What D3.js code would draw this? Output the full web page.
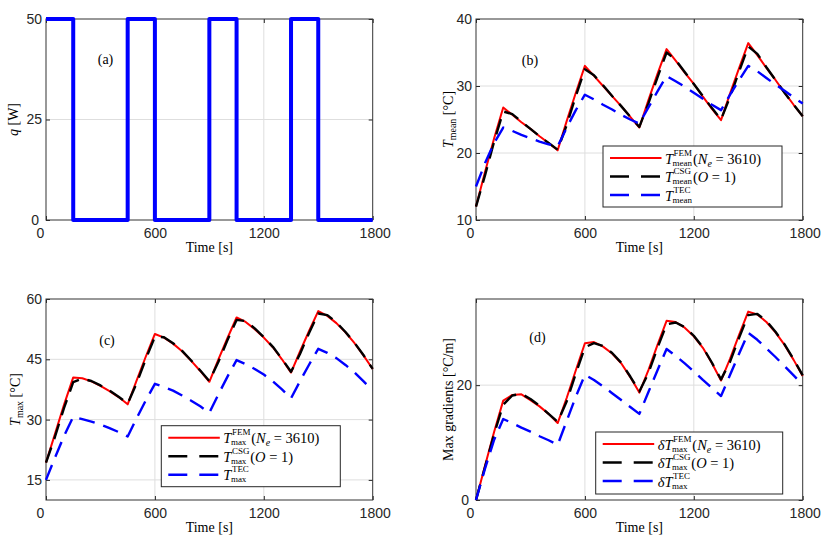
<!DOCTYPE html>
<html>
<head>
<meta charset="utf-8">
<script src="https://cdn.jsdelivr.net/npm/d3@7"></script>
<style>
body { margin: 0; background: #fff; }
svg { display: block; }
.tick text { font-family: 'Liberation Sans', Arial, sans-serif; font-size: 14px; fill: #262626; }
.tick line { stroke: #262626; }
</style>
</head>
<body>
<div id="chart"></div>
<script>
// time axis, common to all panels
var xTicks = [0, 600, 1200, 1800];

// (a) heat input, square wave
var timeQ = [0, 150, 150, 450, 450, 600, 600, 900, 900, 1050, 1050, 1350, 1350, 1500, 1500, 1800];
var qValues = [50, 50, 0, 0, 50, 50, 0, 0, 50, 50, 0, 0, 50, 50, 0, 0];

// sample times for the temperature / gradient curves (every 50 s)
var timeT = [0, 50, 100, 150, 200, 250, 300, 350, 400, 450, 500, 550, 600, 650, 700, 750, 800, 850, 900,
    950, 1000, 1050, 1100, 1150, 1200, 1250, 1300, 1350, 1400, 1450, 1500, 1550, 1600, 1650, 1700, 1750, 1800];

// (b) mean temperature
var meanFEM = [12.0, 17.2, 22.2, 26.8, 25.7, 24.6, 23.6, 22.5, 21.5, 20.4, 24.8, 29.0, 33.0, 31.5, 30.0, 28.5, 27.0, 25.4, 23.8,
    27.9, 31.8, 35.5, 33.8, 32.0, 30.3, 28.4, 26.6, 24.9, 28.9, 32.7, 36.4, 34.6, 32.7, 30.9, 29.0, 27.2, 25.5];
var meanCSG = [12.0, 16.7, 21.7, 26.2, 25.8, 24.7, 23.6, 22.5, 21.5, 20.5, 24.2, 28.5, 32.5, 31.6, 30.1, 28.5, 27.0, 25.4, 23.9,
    27.4, 31.3, 35.0, 33.9, 32.1, 30.3, 28.5, 26.7, 25.0, 28.4, 32.2, 35.9, 34.8, 32.8, 30.9, 29.0, 27.2, 25.5];
var meanTEC = [15.0, 18.5, 21.5, 23.8, 23.3, 22.7, 22.2, 21.7, 21.3, 21.0, 23.8, 26.4, 28.7, 28.0, 27.2, 26.5, 25.7, 25.0, 24.4,
    26.8, 29.2, 31.5, 30.7, 29.9, 29.0, 28.1, 27.2, 26.4, 28.7, 30.9, 33.0, 32.2, 31.2, 30.2, 29.3, 28.3, 27.4];

// (c) max temperature
var maxFEM = [19.3, 26.5, 33.8, 40.5, 40.3, 39.5, 38.4, 37.1, 35.6, 33.8, 39.8, 45.7, 51.3, 50.4, 48.9, 47.0, 44.6, 42.1, 39.4,
    45.0, 50.3, 55.4, 54.3, 52.5, 50.4, 48.0, 45.0, 41.7, 47.0, 52.1, 57.0, 55.8, 54.0, 51.7, 49.0, 45.9, 42.6];
var maxCSG = [19.3, 25.8, 33.0, 39.3, 40.2, 39.6, 38.5, 37.2, 35.7, 34.0, 39.1, 45.1, 50.6, 50.5, 49.0, 47.1, 44.7, 42.2, 39.6,
    44.4, 49.8, 54.8, 54.5, 52.7, 50.5, 48.1, 45.1, 41.9, 46.4, 51.6, 56.4, 56.0, 54.2, 51.8, 49.1, 46.0, 42.6];
var maxTEC = [15.0, 20.6, 26.0, 30.7, 30.1, 29.5, 28.8, 27.9, 26.9, 25.8, 30.4, 34.8, 38.9, 38.1, 37.2, 36.0, 34.7, 33.3, 31.7,
    36.3, 40.7, 44.8, 43.8, 42.6, 41.2, 39.5, 37.5, 35.3, 39.6, 43.7, 47.6, 46.6, 45.3, 43.6, 41.7, 39.5, 37.2];

// (d) max gradients
var gradFEM = [0, 6.0, 11.9, 17.3, 18.3, 18.4, 17.4, 16.3, 15.0, 13.4, 17.8, 22.6, 27.3, 27.5, 26.7, 25.5, 23.8, 21.4, 18.7,
    22.6, 27.0, 31.2, 31.0, 30.0, 28.5, 26.5, 23.8, 20.8, 24.6, 28.8, 32.8, 32.3, 31.0, 29.2, 27.0, 24.4, 21.6];
var gradCSG = [0, 5.8, 11.5, 16.6, 18.2, 18.5, 17.6, 16.4, 15.0, 13.6, 17.2, 22.0, 26.6, 27.3, 26.8, 25.6, 23.9, 21.5, 18.9,
    22.1, 26.5, 30.6, 30.9, 30.1, 28.6, 26.6, 23.9, 21.0, 24.1, 28.3, 32.2, 32.4, 31.2, 29.3, 27.1, 24.5, 21.7];
var gradTEC = [0, 5.5, 10.5, 14.1, 13.4, 12.6, 11.9, 11.1, 10.4, 9.6, 13.8, 18.0, 21.8, 20.9, 19.8, 18.6, 17.4, 16.2, 15.0,
    18.8, 22.6, 26.3, 25.1, 23.8, 22.4, 20.9, 19.5, 18.1, 21.8, 25.5, 29.1, 27.9, 26.4, 24.9, 23.3, 21.7, 20.1];

var seriesStyle = [
    {color: '#ff0000', width: 2, dash: null},
    {color: '#000000', width: 2.4, dash: '16,9'},
    {color: '#0000ff', width: 2.4, dash: '16,9'}
];

var serif = "'Liberation Serif', 'Times New Roman', serif";

var svg = d3.select('#chart').append('svg')
    .attr('width', 831)
    .attr('height', 543);

var plotW = 326.7, plotH = 201;

new Panel({
    left: 46, top: 19, yDomain: [0, 50], yTicks: [0, 25, 50],
    letter: '(a)', letterPos: [59.5, 45], yLabelX: -33,
    yLabel: [{t: 'q', it: true}, {t: ' [W]'}],
    series: [{t: timeQ, v: qValues, style: {color: '#0000ff', width: 4, dash: null}}]
});

new Panel({
    left: 476, top: 19, yDomain: [10, 40], yTicks: [10, 20, 30, 40],
    letter: '(b)', letterPos: [54, 46], yLabelX: -28,
    yLabel: [{t: 'T', it: true}, {t: 'mean', sub: true}, {t: ' [°C]'}],
    series: [{t: timeT, v: meanFEM}, {t: timeT, v: meanCSG}, {t: timeT, v: meanTEC}],
    legend: {x: 127, y: 127, w: 179, h: 61, delta: false, sub: 'mean'}
});

new Panel({
    left: 46, top: 299, yDomain: [10, 60], yTicks: [15, 30, 45, 60],
    letter: '(c)', letterPos: [61, 46], yLabelX: -31,
    yLabel: [{t: 'T', it: true}, {t: 'max', sub: true}, {t: ' [°C]'}],
    series: [{t: timeT, v: maxFEM}, {t: timeT, v: maxCSG}, {t: timeT, v: maxTEC}],
    legend: {x: 115.3, y: 126.7, w: 179, h: 61, delta: false, sub: 'max'}
});

new Panel({
    left: 476, top: 299, yDomain: [0, 35], yTicks: [0, 20],
    letter: '(d)', letterPos: [61.5, 42.7], yLabelX: -28,
    yLabel: [{t: 'Max gradients [°C/m]'}],
    series: [{t: timeT, v: gradFEM}, {t: timeT, v: gradCSG}, {t: timeT, v: gradTEC}],
    legend: {x: 119.7, y: 133, w: 187, h: 62, delta: true, sub: 'max'}
});

function Panel(cfg) {
    var g = svg.append('g')
        .attr('transform', `translate(${cfg.left}, ${cfg.top})`);

    var x = d3.scaleLinear().domain([0, 1800]).range([0, plotW]);
    var y = d3.scaleLinear().domain(cfg.yDomain).range([plotH, 0]);

    // grid lines (not on the box edges)
    var innerX = xTicks.filter(d => d > 0 && d < 1800);
    var innerY = cfg.yTicks.filter(d => d > cfg.yDomain[0] && d < cfg.yDomain[1]);
    g.selectAll('.gx').data(innerX).enter().append('line')
        .attr('x1', d => x(d)).attr('x2', d => x(d))
        .attr('y1', 0).attr('y2', plotH)
        .attr('stroke', '#dedede').attr('stroke-width', 1);
    g.selectAll('.gy').data(innerY).enter().append('line')
        .attr('x1', 0).attr('x2', plotW)
        .attr('y1', d => y(d)).attr('y2', d => y(d))
        .attr('stroke', '#dedede').attr('stroke-width', 1);

    // axes, ticks pointing inward on all four sides
    var fmt = d3.format('d');
    g.append('g')
        .attr('transform', `translate(0, ${plotH})`)
        .call(d3.axisBottom(x).tickValues(xTicks).tickFormat(fmt).tickSizeInner(-4).tickSizeOuter(0).tickPadding(8))
        .call(a => a.select('.domain').remove())
        // corner labels sit a little outward, as in the original
        .call(a => a.selectAll('.tick text').attr('dx', d => d == 0 ? -6 : (d == 1800 ? 2 : 0)));
    g.append('g')
        .call(d3.axisTop(x).tickValues(xTicks).tickSizeInner(-4).tickSizeOuter(0).tickFormat(''))
        .call(a => a.select('.domain').remove());
    g.append('g')
        .call(d3.axisLeft(y).tickValues(cfg.yTicks).tickFormat(fmt).tickSizeInner(-4).tickSizeOuter(0).tickPadding(4))
        .call(a => a.select('.domain').remove())
        .call(a => a.selectAll('.tick text').attr('dx', d => d == 0 ? -3 : 0));
    g.append('g')
        .attr('transform', `translate(${plotW}, 0)`)
        .call(d3.axisRight(y).tickValues(cfg.yTicks).tickSizeInner(-4).tickSizeOuter(0).tickFormat(''))
        .call(a => a.select('.domain').remove());

    g.append('rect')
        .attr('width', plotW).attr('height', plotH)
        .attr('fill', 'none')
        .attr('stroke', '#333').attr('stroke-width', 1);

    // curves
    cfg.series.forEach((s, i) => {
        var st = s.style || seriesStyle[i];
        var line = d3.line()
            .x((d, k) => x(s.t[k]))
            .y(d => y(d));
        g.append('path')
            .datum(s.v)
            .attr('d', line)
            .attr('fill', 'none')
            .attr('stroke', st.color)
            .attr('stroke-width', st.width)
            .attr('stroke-dasharray', st.dash)
            .attr('stroke-linejoin', 'round');
    });

    // panel letter
    g.append('text')
        .attr('x', cfg.letterPos[0]).attr('y', cfg.letterPos[1])
        .attr('text-anchor', 'middle')
        .style('font-family', serif).style('font-size', '14px')
        .text(cfg.letter);

    // x label
    g.append('text')
        .attr('x', plotW / 2).attr('y', plotH + 31.7)
        .attr('text-anchor', 'middle')
        .style('font-family', serif).style('font-size', '14px')
        .text('Time [s]');

    // y label
    var yl = g.append('text')
        .attr('transform', `translate(${cfg.yLabelX}, ${plotH / 2}) rotate(-90)`)
        .attr('text-anchor', 'middle')
        .attr('dy', '0.35em')
        .style('font-family', serif).style('font-size', '14px');
    var shifted = false;
    cfg.yLabel.forEach(p => {
        var ts = yl.append('tspan').text(p.t);
        if (p.it) ts.style('font-style', 'italic');
        if (p.sub) { ts.style('font-size', '10px').attr('dy', 3); shifted = true; }
        else if (shifted) { ts.attr('dy', -3); shifted = false; }
    });

    if (cfg.legend) drawLegend(g, cfg.legend);
}

function drawLegend(g, L) {
    var lg = g.append('g').attr('transform', `translate(${L.x}, ${L.y})`);
    lg.append('rect')
        .attr('width', L.w).attr('height', L.h)
        .attr('fill', '#fff')
        .attr('stroke', '#262626').attr('stroke-width', 1);

    var rows = [12, 30.5, 49];
    var sups = ['FEM', 'CSG', 'TEC'];
    var tails = ['ne', 'o', ''];

    rows.forEach((ry, i) => {
        var st = seriesStyle[i];
        lg.append('line')
            .attr('x1', 7).attr('x2', 58.5)
            .attr('y1', ry).attr('y2', ry)
            .attr('stroke', st.color)
            .attr('stroke-width', st.width)
            .attr('stroke-dasharray', st.dash ? '19,12' : null);

        var cx = 62;
        var main = lg.append('text')
            .attr('x', cx).attr('y', ry + 5.5)
            .style('font-family', serif).style('font-size', '14.5px').style('font-style', 'italic')
            .text(L.delta ? 'δT' : 'T');
        cx += main.node().getComputedTextLength() + 0.5;

        // stacked super- and subscript
        var sup = lg.append('text')
            .attr('x', cx).attr('y', ry - 2.2)
            .style('font-family', serif).style('font-size', '9px')
            .text(sups[i]);
        var sub = lg.append('text')
            .attr('x', cx - 1).attr('y', ry + 7.6)
            .style('font-family', serif).style('font-size', '9px')
            .text(L.sub);
        cx += Math.max(sup.node().getComputedTextLength(), sub.node().getComputedTextLength() - 1) + 0.8;

        if (tails[i] === 'ne') {
            var t = lg.append('text')
                .attr('x', cx).attr('y', ry + 5.5)
                .style('font-family', serif).style('font-size', '14.5px');
            t.append('tspan').text('(');
            t.append('tspan').style('font-style', 'italic').text('N');
            t.append('tspan').style('font-style', 'italic').style('font-size', '10px').attr('dy', 3).text('e');
            t.append('tspan').attr('dy', -3).text(' = 3610)');
        } else if (tails[i] === 'o') {
            var t2 = lg.append('text')
                .attr('x', cx).attr('y', ry + 5.5)
                .style('font-family', serif).style('font-size', '14.5px');
            t2.append('tspan').text('(');
            t2.append('tspan').style('font-style', 'italic').text('O');
            t2.append('tspan').text(' = 1)');
        }
    });
}
</script>
</body>
</html>
